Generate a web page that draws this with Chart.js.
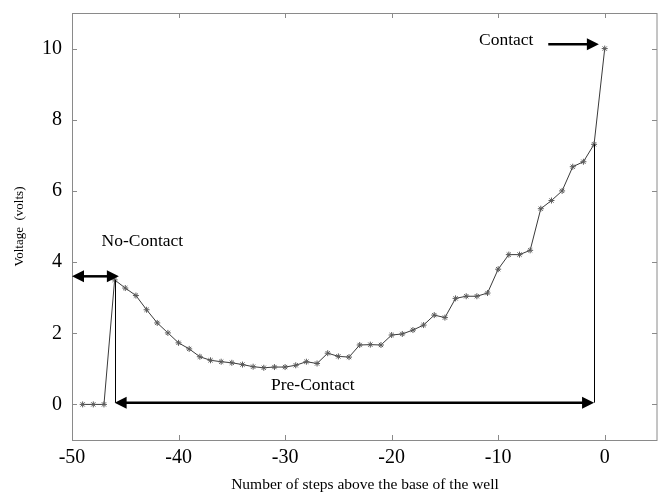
<!DOCTYPE html>
<html>
<head>
<meta charset="utf-8">
<script src="https://cdn.jsdelivr.net/npm/chart.js@4.4.1/dist/chart.umd.min.js"></script>
<style>
  html, body { margin: 0; padding: 0; background: #fff; }
  #wrap { width: 658px; height: 496px; }
</style>
</head>
<body>
<div id="wrap"><canvas id="voltChart" width="658" height="496"></canvas></div>
<script>
// steps above the base of the well
const steps = [-49, -48, -47, -46, -45, -44, -43, -42, -41, -40,
               -39, -38, -37, -36, -35, -34, -33, -32, -31, -30,
               -29, -28, -27, -26, -25, -24, -23, -22, -21, -20,
               -19, -18, -17, -16, -15, -14, -13, -12, -11, -10,
               -9, -8, -7, -6, -5, -4, -3, -2, -1, 0];
// measured voltage (volts)
const voltage = [0, 0, 0, 3.50, 3.27, 3.06, 2.66, 2.29, 2.01, 1.73,
                 1.56, 1.34, 1.24, 1.20, 1.17, 1.12, 1.06, 1.03, 1.05, 1.05,
                 1.10, 1.20, 1.15, 1.44, 1.35, 1.33, 1.67, 1.68, 1.67, 1.95,
                 1.98, 2.09, 2.23, 2.51, 2.44, 2.98, 3.04, 3.04, 3.13, 3.80,
                 4.21, 4.21, 4.33, 5.50, 5.73, 6.00, 6.68, 6.82, 7.31, 10.0];

const xTicks = [-50, -40, -30, -20, -10, 0];
const yTicks = [0, 2, 4, 6, 8, 10];

// annotation arrows: [x1, x2, y], in data units
const noContactArrow = [-50, -45.6, 3.6];
const preContactArrow = [-46, -1, 0.05];
const contactArrow = [-5.3, -0.55, 10.12];
// bracket verticals: [x, yTop, yBottom]
const bracketLines = [[-46, 3.5, 0.05], [-1, 7.31, 0.05]];
// labels: [text, x, y]
const labels = [["No-Contact", -43.4, 4.58], ["Pre-Contact", -27.4, 0.53], ["Contact", -9.25, 10.23]];

const serif = "'Liberation Serif', 'Times New Roman', serif";
const frameColor = "#8a8a8a";

function arrowHead(ctx, x, y, dir) {
    ctx.beginPath();
    ctx.moveTo(x, y);
    ctx.lineTo(x - dir * 12, y - 6);
    ctx.lineTo(x - dir * 12, y + 6);
    ctx.closePath();
    ctx.fill();
}

const framePlugin = {
    id: "frame",
    beforeDatasetsDraw(chart) {
        const { ctx, chartArea: a, scales: { x, y } } = chart;
        ctx.save();
        ctx.strokeStyle = frameColor;
        ctx.lineWidth = 1;
        ctx.strokeRect(a.left + 0.5, a.top + 0.5, a.right - a.left - 1.5, a.bottom - a.top);
        ctx.beginPath();
        xTicks.forEach(v => {
            const px = Math.round(x.getPixelForValue(v)) + 0.5;
            ctx.moveTo(px, a.bottom); ctx.lineTo(px, a.bottom - 5);
            ctx.moveTo(px, a.top); ctx.lineTo(px, a.top + 5);
        });
        yTicks.forEach(v => {
            const py = Math.round(y.getPixelForValue(v)) + 0.5;
            ctx.moveTo(a.left, py); ctx.lineTo(a.left + 5, py);
            ctx.moveTo(a.right - 1, py); ctx.lineTo(a.right - 6, py);
        });
        ctx.stroke();
        ctx.restore();
    },
    afterDatasetsDraw(chart) {
        const { ctx, scales: { x, y } } = chart;
        ctx.save();
        ctx.strokeStyle = "#000";
        ctx.fillStyle = "#000";

        // bracket verticals
        ctx.lineWidth = 1;
        ctx.beginPath();
        bracketLines.forEach(([bx, y1, y2]) => {
            const px = Math.round(x.getPixelForValue(bx)) + 0.5;
            ctx.moveTo(px, y.getPixelForValue(y1));
            ctx.lineTo(px, y.getPixelForValue(y2));
        });
        ctx.stroke();

        // double arrows
        ctx.lineWidth = 2.5;
        [noContactArrow, preContactArrow].forEach(([x1, x2, ay]) => {
            const p1 = x.getPixelForValue(x1), p2 = x.getPixelForValue(x2);
            const py = y.getPixelForValue(ay);
            ctx.beginPath();
            ctx.moveTo(p1 + 8, py); ctx.lineTo(p2 - 8, py);
            ctx.stroke();
            arrowHead(ctx, p1, py, -1);
            arrowHead(ctx, p2, py, 1);
        });
        // single arrow
        {
            const [x1, x2, ay] = contactArrow;
            const p1 = x.getPixelForValue(x1), p2 = x.getPixelForValue(x2);
            const py = y.getPixelForValue(ay);
            ctx.beginPath();
            ctx.moveTo(p1, py); ctx.lineTo(p2 - 8, py);
            ctx.stroke();
            arrowHead(ctx, p2, py, 1);
        }

        ctx.font = "17.5px " + serif;
        ctx.textAlign = "center";
        ctx.textBaseline = "middle";
        labels.forEach(([t, lx, ly]) => {
            ctx.fillText(t, x.getPixelForValue(lx), y.getPixelForValue(ly));
        });
        ctx.restore();
    }
};

const ctx = document.getElementById("voltChart").getContext("2d");
new Chart(ctx, {
    type: "scatter",
    data: {
        datasets: [
            {
                label: "Voltage",
                data: steps.map((s, i) => ({ x: s, y: voltage[i] })),
                showLine: true,
                borderColor: "#3a3a3a",
                borderWidth: 1,
                pointStyle: "star",
                pointRadius: 3,
                pointBorderColor: "#5a5a5a",
                pointBackgroundColor: "#5a5a5a",
                pointBorderWidth: 1,
            },
        ],
    },
    options: {
        responsive: false,
        animation: false,
        layout: { autoPadding: false, padding: { top: 13, right: 0, left: 0, bottom: 0 } },
        plugins: {
            legend: { display: false },
            tooltip: { enabled: false },
        },
        scales: {
            x: {
                type: "linear",
                min: -50,
                max: 5,
                grid: { display: false, drawTicks: false },
                border: { display: false },
                afterBuildTicks: s => { s.ticks = xTicks.map(v => ({ value: v })); },
                afterFit: s => { s.height = 56; s.paddingLeft = 0; s.paddingRight = 0; },
                ticks: {
                    color: "#000",
                    padding: 6,
                    font: { family: serif, size: 20 },
                    maxRotation: 0,
                },
                title: {
                    display: true,
                    text: "Number of steps above the base of the well",
                    color: "#000",
                    font: { family: serif, size: 15.5 },
                    padding: { top: 0, bottom: 2 },
                },
            },
            y: {
                min: -1,
                max: 11,
                grid: { display: false, drawTicks: false },
                border: { display: false },
                afterBuildTicks: s => { s.ticks = yTicks.map(v => ({ value: v })); },
                afterFit: s => { s.width = 72; s.paddingTop = 0; s.paddingBottom = 0; },
                ticks: {
                    color: "#000",
                    padding: 10,
                    font: { family: serif, size: 20 },
                },
                title: {
                    display: true,
                    text: "Voltage  (volts)",
                    color: "#000",
                    font: { family: serif, size: 13 },
                    padding: { top: 12, bottom: 0 },
                },
            },
        },
    },
    plugins: [framePlugin],
});
</script>
</body>
</html>
